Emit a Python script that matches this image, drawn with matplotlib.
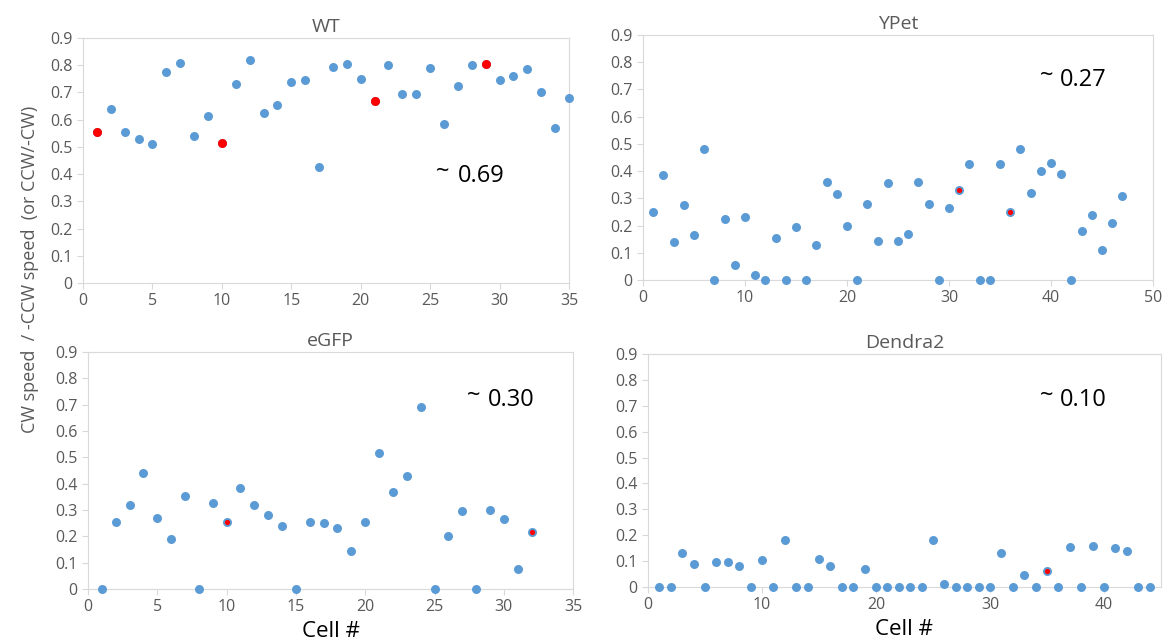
import matplotlib.pyplot as plt
import numpy as np
from matplotlib.ticker import FuncFormatter

plt.rcParams['font.family'] = ['Open Sans', 'DejaVu Sans']

# per-cell ratios, cells numbered from 1
wt = [0.555, 0.64, 0.555, 0.53, 0.51, 0.775, 0.81, 0.54, 0.615, 0.515,
      0.73, 0.82, 0.625, 0.655, 0.74, 0.745, 0.425, 0.795, 0.805, 0.75,
      0.67, 0.80, 0.695, 0.695, 0.79, 0.585, 0.725, 0.80, 0.805, 0.745,
      0.76, 0.785, 0.70, 0.57, 0.68]
wt_red = [1, 10, 21, 29]

ypet = [0.25, 0.385, 0.14, 0.275, 0.165, 0.48, 0, 0.225, 0.055, 0.23,
        0.02, 0, 0.155, 0, 0.195, 0, 0.13, 0.36, 0.315, 0.20,
        0, 0.28, 0.145, 0.355, 0.145, 0.17, 0.36, 0.28, 0, 0.265,
        0.33, 0.425, 0, 0, 0.425, 0.25, 0.48, 0.32, 0.40, 0.43,
        0.39, 0, 0.18, 0.24, 0.11, 0.21, 0.31]
ypet_red = [31, 36]

egfp = [0, 0.255, 0.32, 0.44, 0.27, 0.19, 0.355, 0, 0.325, 0.255,
        0.385, 0.32, 0.28, 0.24, 0, 0.255, 0.25, 0.23, 0.145, 0.255,
        0.515, 0.37, 0.43, 0.69, 0, 0.20, 0.295, 0, 0.30, 0.265,
        0.075, 0.215]
egfp_red = [10, 32]

dendra = [0, 0, 0.13, 0.09, 0, 0.095, 0.095, 0.08, 0, 0.105,
          0, 0.18, 0, 0, 0.11, 0.08, 0, 0, 0.07, 0,
          0, 0, 0, 0, 0.18, 0.01, 0, 0, 0, 0,
          0.13, 0, 0.045, 0, 0.06, 0, 0.155, 0, 0.16, 0,
          0.15, 0.14, 0, 0]
dendra_red = [35]

titles = ['WT', 'YPet', 'eGFP', 'Dendra2']
means = ['0.69', '0.27', '0.30', '0.10']

blue = '#5b9bd5'
grey = '#595959'
edge = '#d9d9d9'

fig = plt.figure(figsize=(11.66, 6.41), dpi=100)

boxes = [[0.0712, 0.5585, 0.4168, 0.3822],
         [0.5515, 0.5632, 0.4374, 0.3822],
         [0.0755, 0.0811, 0.4160, 0.3697],
         [0.5557, 0.0842, 0.4400, 0.3635]]
xmax = [35, 50, 35, 45]
xstep = [5, 10, 5, 10]
# (tilde x, number x, number y) in axes fractions
text_pos = [(0.726, 0.772, 0.437),
            (0.778, 0.818, 0.816),
            (0.782, 0.825, 0.797),
            (0.764, 0.803, 0.803)]

data = [wt, ypet, egfp, dendra]
reds = [wt_red, ypet_red, egfp_red, dendra_red]

for i in range(4):
    ax = fig.add_axes(boxes[i])
    vals = data[i]
    cells = np.arange(1, len(vals) + 1)
    ax.scatter(cells, vals, s=42, color=blue, zorder=3, clip_on=False, linewidths=0)
    r = np.array(reds[i])
    rv = [vals[k - 1] for k in r]
    # WT highlights are full-size, the others are a small dot on top
    if i == 0:
        ax.scatter(r, rv, s=42, color='#ff0000', zorder=4, clip_on=False, linewidths=0)
    else:
        ax.scatter(r, rv, s=14, color='#ff0000', zorder=4, clip_on=False, linewidths=0)

    ax.set_xlim(0, xmax[i])
    ax.set_ylim(0, 0.9)
    ax.set_xticks(np.arange(0, xmax[i] + 0.1, xstep[i]))
    if i == 3:
        ax.set_xticks(np.arange(0, 41, 10))
    ax.set_yticks(np.arange(0, 0.91, 0.1))
    ax.yaxis.set_major_formatter(FuncFormatter(lambda v, p: '%g' % round(v, 1)))
    ax.tick_params(colors=edge, labelcolor=grey, labelsize=11.5, length=4)
    for s in ax.spines.values():
        s.set_color(edge)
    ax.set_title(titles[i], color=grey, fontsize=14, pad=4)
    tx, nx, ny = text_pos[i]
    # raise the tilde a few pixels above the number's centre
    up = 4.0 / (boxes[i][3] * 641)
    ax.text(tx, ny + up, '~', transform=ax.transAxes, fontsize=17, color='black', va='center')
    ax.text(nx, ny, means[i], transform=ax.transAxes, fontsize=17, color='black', va='center')
    if i >= 2:
        ax.set_xlabel('Cell #', fontsize=16, color='black', labelpad=4)

fig.text(0.026, 0.579, 'CW speed  / -CCW speed  (or CCW/-CW)', rotation=90,
         fontsize=13, color=grey, va='center', ha='center')

fig.savefig('out.png', dpi=100)
